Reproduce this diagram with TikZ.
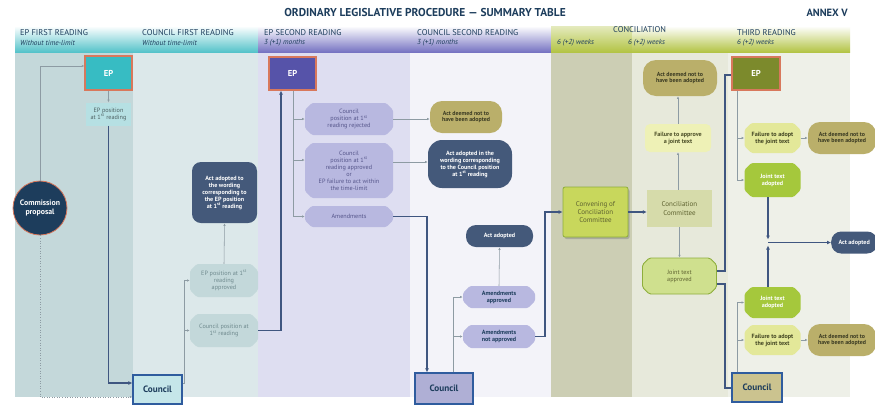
\documentclass[tikz,border=0pt]{standalone}
\usepackage{fontspec}
\setmainfont{PT Sans}
\usetikzlibrary{arrows.meta,shapes.misc,shadows,calc}
\definecolor{navy}{HTML}{1D3D5C}
\definecolor{slate}{HTML}{44597A}
\definecolor{thickc}{HTML}{3F5680}
\definecolor{thinc}{HTML}{8D9BA3}
\definecolor{epteal}{HTML}{37BCC3}
\definecolor{salmon}{HTML}{D8785C}
\definecolor{eppurple}{HTML}{5653A9}
\definecolor{epolive}{HTML}{7C8A2C}
\definecolor{lav}{HTML}{B8B8E0}
\definecolor{lavtext}{HTML}{55558A}
\definecolor{khaki}{HTML}{BAAF6A}
\definecolor{khtext}{HTML}{3A3A22}
\definecolor{tealbox}{HTML}{C3D8DA}
\definecolor{tealtext}{HTML}{6F8A8E}
\definecolor{cyanbox}{HTML}{B6E0E3}
\definecolor{councilblue}{HTML}{2F5C9E}
\definecolor{colA}{HTML}{C4D8DA}
\definecolor{colB}{HTML}{DCE8EA}
\definecolor{colC}{HTML}{DEDEF1}
\definecolor{colD}{HTML}{F3F3F9}
\definecolor{colE}{HTML}{CCCEB4}
\definecolor{colF}{HTML}{E7E9DB}
\definecolor{colG}{HTML}{EEF0E8}
\definecolor{hteal}{HTML}{55C3CA}
\definecolor{hpurple}{HTML}{7673C2}
\definecolor{holive}{HTML}{B3C445}
\definecolor{yelbox}{HTML}{EEF1B6}
\definecolor{greenbox}{HTML}{A5C83C}
\definecolor{failbox}{HTML}{E3E899}
\definecolor{jtabox}{HTML}{CFE08E}
\definecolor{jtaline}{HTML}{8EAE3C}
\definecolor{olivetext}{HTML}{5E6230}
\definecolor{convbox}{HTML}{C8D75C}
\definecolor{concbox}{HTML}{D6DBAA}
\tikzset{
  lnthin/.style={draw=thinc, line width=0.55pt},
  lnthick/.style={draw=thickc, line width=1.6pt},
  lnmed/.style={draw=thickc, line width=1.1pt},
  tipthin/.style={-{Latex[length=2.6pt,width=2.3pt]}},
  tipthick/.style={-{Latex[length=4pt,width=4pt]}},
  basebox/.style={inner sep=1pt, align=center, font=\fontsize{6.2}{7}\selectfont},
  bfont/.style={font=\fontsize{6.1}{7}\bfseries\selectfont},
  chambox/.style={basebox, chamfered rectangle, chamfered rectangle xsep=3.5pt, rounded corners=1.5pt},
  lavbox/.style={chambox, fill=lav, text=lavtext},
  lavbold/.style={chambox, fill=lav, text=navy, bfont},
  tbox/.style={chambox, fill=tealbox, text=tealtext},
  pill/.style={basebox, rectangle, rounded corners=#1, fill=khaki, text=khtext, font=\fontsize{5.9}{6.8}\bfseries\selectfont},
  dark/.style={basebox, rectangle, rounded corners=#1, fill=slate, text=white, bfont},
  epbox/.style={rectangle, draw=salmon, line width=1.2pt, text=white, font=\fontsize{8.6}{9}\bfseries\selectfont},
  cbox/.style={rectangle, draw=councilblue, line width=1.3pt, text=navy, font=\fontsize{9.2}{10}\bfseries\selectfont},
  hdr/.style={anchor=west, text=navy, font=\fontsize{8.4}{9}\selectfont, inner sep=0pt},
  sub/.style={anchor=west, text=navy, font=\fontsize{7.3}{8}\itshape\selectfont, inner sep=0pt},
}
\begin{document}
\begin{tikzpicture}[x=1pt,y=-1pt]
\useasboundingbox (0,0) rectangle (875,408);
\fill[white] (0,0) rectangle (875,408);
% column bodies
\fill[colA] (15,52) rectangle (133,397);
\fill[colB] (133,52) rectangle (258,397);
\fill[colC] (258,52) rectangle (410,397);
\fill[colD] (410,52) rectangle (551,397);
\fill[colE] (551,52) rectangle (632,397);
\fill[colF] (632,52) rectangle (728,397);
\fill[colG] (728,52) rectangle (850,397);
% header bands
\shade[top color=white, middle color=hteal!20, bottom color=hteal] (15,26) rectangle (258,52);
\shade[top color=white, middle color=hpurple!20, bottom color=hpurple] (258,26) rectangle (551,52);
\shade[top color=holive!35, bottom color=holive] (551,26) rectangle (632,52);
\shade[top color=white, middle color=holive!20, bottom color=holive] (632,26) rectangle (850,52);
% titles
\node[text=navy, font=\fontsize{11.4}{12}\bfseries\selectfont, inner sep=0pt] (title) at (425,13) {ORDINARY LEGISLATIVE PROCEDURE — SUMMARY TABLE};
\node[text=navy, font=\fontsize{10.5}{11}\bfseries\selectfont, inner sep=0pt, anchor=east] (annex) at (848,13) {ANNEX V};
\node[hdr] (h1) at (20,33) {EP FIRST READING};
\node[sub] (s1) at (20,43) {Without time-limit};
\node[hdr] (h2) at (142,33) {COUNCIL FIRST READING};
\node[sub] (s2) at (142,43) {Without time-limit};
\node[hdr] (h3) at (264,33) {EP SECOND READING};
\node[sub] (s3) at (264,43) {3 (+1) months};
\node[hdr] (h4) at (417,33) {COUNCIL SECOND READING};
\node[sub] (s4) at (417,43) {3 (+1) months};
\node[sub] (s5) at (557,43) {6 (+2) weeks};
\node[hdr] (h6) at (613,30) {CONCILIATION};
\node[sub] (s6) at (628,43) {6 (+2) weeks};
\node[hdr] (h7) at (737,33) {THIRD READING};
\node[sub] (s7) at (737,43) {6 (+2) weeks};

% nodes
\node[circle, fill=navy, draw=salmon, line width=0.8pt, minimum size=54pt, inner sep=0pt, align=center, text=white, font=\fontsize{7.8}{9.4}\bfseries\selectfont] (cp) at (40,208) {Commission\\proposal};
\node[epbox, fill=epteal, minimum width=47pt, minimum height=34pt] (ep1) at (108.5,73) {EP};
\node[basebox, fill=cyanbox, text=tealtext!70!black, minimum width=45pt, minimum height=23pt] (ep1pos) at (108.5,114) {EP position\\at 1\textsuperscript{st} reading};
\node[cbox, fill=cyanbox!80!white, minimum width=49pt, minimum height=29pt] (cf1) at (157.5,389.5) {Council};
\node[tbox, minimum width=68pt, minimum height=33pt] (ep1appr) at (224,280.5) {EP position at 1\textsuperscript{st}\\reading\\approved};
\node[tbox, minimum width=68pt, minimum height=33pt] (cpos1) at (224,330.5) {Council position at\\1\textsuperscript{st} reading};
\node[dark=9pt, minimum width=65pt, minimum height=61pt] (actep) at (224.5,192.5) {Act adopted to\\the wording\\corresponding to\\the EP position\\at 1\textsuperscript{st} reading};
\node[epbox, fill=eppurple, minimum width=47pt, minimum height=33pt] (ep2) at (292.5,73.5) {EP};
\node[lavbox, minimum width=88pt, minimum height=32pt] (rej) at (349,119) {Council\\position at 1\textsuperscript{st}\\reading rejected};
\node[lavbox, minimum width=88pt, minimum height=55pt] (appr) at (349,170.5) {Council\\position at 1\textsuperscript{st}\\reading approved\\or\\EP failure to act within\\the time-limit};
\node[lavbox, minimum width=88pt, minimum height=21pt] (amend) at (349,216.5) {Amendments};
\node[pill=12pt, minimum width=72pt, minimum height=32pt] (dm1) at (466,117) {Act deemed not to\\have been adopted};
\node[dark=14pt, minimum width=84pt, minimum height=48pt] (actcp) at (470,164) {Act adopted in the\\wording corresponding\\to the Council position\\at 1\textsuperscript{st} reading};
\node[dark=10pt, minimum width=67pt, minimum height=22pt] (actad1) at (499.5,236) {Act adopted};
\node[lavbold, minimum width=72pt, minimum height=22pt] (amap) at (499,297) {Amendments\\approved};
\node[lavbold, minimum width=72pt, minimum height=23pt] (amnap) at (499,336.5) {Amendments\\not approved};
\node[cbox, fill=lav!95!black, minimum width=58pt, minimum height=31pt] (cf2) at (444,388.5) {Council};
\node[basebox, rectangle, rounded corners=2pt, fill=convbox, draw=jtaline, line width=0.8pt, text=olivetext, drop shadow={opacity=0.45, shadow xshift=1.5pt, shadow yshift=-2pt}, minimum width=65pt, minimum height=50pt, font=\fontsize{7}{8.2}\selectfont] (conv) at (595.5,212) {Convening of\\Conciliation\\Committee};
\node[basebox, rectangle, fill=concbox, text=olivetext, minimum width=65pt, minimum height=37pt, font=\fontsize{7}{8.2}\selectfont] (concom) at (679.5,208.5) {Conciliation\\Committee};
\node[basebox, rectangle, rounded corners=5pt, fill=yelbox, text=olivetext!80!black, minimum width=66pt, minimum height=28pt, bfont] (fail1) at (678,138) {Failure to approve\\a joint text};
\node[pill=13pt, minimum width=74pt, minimum height=36pt] (dm2) at (680,78) {Act deemed not to\\have been adopted};
\node[chambox, fill=jtabox, draw=jtaline, line width=0.9pt, text=olivetext, minimum width=74pt, minimum height=36pt] (jta) at (679.5,276) {Joint text\\approved};
\node[epbox, fill=epolive, minimum width=48pt, minimum height=33pt] (ep3) at (756,73.5) {EP};
\node[chambox, fill=failbox, text=olivetext!70!black, minimum width=56pt, minimum height=30pt, bfont] (fad1) at (772.5,138) {Failure to adopt\\the joint text};
\node[pill=12pt, minimum width=68pt, minimum height=32pt] (dm3) at (842,138) {Act deemed not to\\have been adopted};
\node[chambox, fill=greenbox, text=white, minimum width=56pt, minimum height=34pt, bfont] (jtad1) at (772.5,180) {Joint text\\adopted};
\node[dark=10pt, minimum width=46pt, minimum height=22pt, anchor=west] (actad2) at (831,242.5) {Act adopted};
\node[chambox, fill=greenbox, text=white, minimum width=56pt, minimum height=31pt, bfont] (jtad2) at (772.5,302.5) {Joint text\\adopted};
\node[chambox, fill=failbox, text=olivetext!70!black, minimum width=56pt, minimum height=30pt, bfont] (fad2) at (772.5,340) {Failure to adopt\\the joint text};
\node[pill=12pt, minimum width=68pt, minimum height=32pt] (dm4) at (842,340) {Act deemed not to\\have been adopted};
\node[cbox, fill=khaki!75!white, minimum width=50pt, minimum height=29pt] (cf3) at (757,387.5) {Council};

% junction points
\coordinate (jA) at (184,383);
\coordinate (jB) at (293,216.5);
\coordinate (jC) at (453,297);
\coordinate (jD) at (545,336.5);
\coordinate (jE) at (737,180);
\coordinate (jF) at (737,302.5);
\coordinate (jn) at (768,242.5);

% connectors - commission
\draw[lnthin, tipthin] (cp.north) |- (ep1.west |- 0,66);
\draw[lnthin, dotted, tipthin] (cp.south) |- (cf1.west |- 0,397);
% first reading
\draw[lnthin, tipthin] (ep1.south) -- (ep1pos.north);
\draw[lnthick, tipthick] (ep1pos.south) |- (cf1.west |- 0,383);
\draw[lnthin] (cf1.east |- jA) -- (jA) -- (184,280.5);
\draw[lnthin, tipthin] (184,280.5) -- (ep1appr.west);
\draw[lnthin, tipthin] (184,330.5) -- (cpos1.west);
\draw[lnthin, tipthin] (ep1appr.north) -- (actep.south);
\draw[lnthick, tipthick] (cpos1.east) -| (ep2.south -| 281,0);
% second reading
\draw[lnthin] (ep2.south -| 293,0) -- (jB);
\draw[lnthin, tipthin] (293,119) -- (rej.west);
\draw[lnthin, tipthin] (293,160) -- (appr.west |- 0,160);
\draw[lnthin, tipthin] (jB) -- (amend.west);
\draw[lnthin, tipthin] (rej.east) -- (dm1.west |- rej.east);
\draw[lnthin, tipthin] (appr.east |- 0,162) -- (actcp.west |- 0,162);
\draw[lnthick, tipthick] (amend.east) -| (cf2.north -| 427,0);
\draw[lnthin] (cf2.north -| 453,0) -- (jC);
\draw[lnthin, tipthin] (jC) -- (amap.west);
\draw[lnthin, tipthin] (453,336.5) -- (amnap.west);
\draw[lnthin, tipthin] (amap.north) -- (actad1.south);
\draw[lnthick, tipthick] (amnap.east) -- (jD) |- (conv.west);
% conciliation
\draw[lnthick, tipthick] (conv.east) -- (concom.west |- conv.east);
\draw[lnthin, tipthin] (concom.north -| 678,0) -- (fail1.south);
\draw[lnthin, tipthin] (fail1.north) -- (dm2.south -| fail1.north);
\draw[lnthin, tipthin] (concom.south) -- (jta.north);
\draw[lnthick] (jta.east |- 0,271) -| (725,75) -- (ep3.west |- 0,75);
\draw[lnthick] (jta.east |- 0,284) -| (725,388) -- (cf3.west |- 0,388);
% third reading
\draw[lnthin] (ep3.south -| 737,0) -- (jE);
\draw[lnthin, tipthin] (737,138) -- (fad1.west);
\draw[lnthin, tipthin] (jE) -- (jtad1.west);
\draw[lnthin, tipthin] (fad1.east) -- (dm3.west);
\draw[lnthin] (cf3.north -| 737,0) -- (jF);
\draw[lnthin, tipthin] (jF) -- (jtad2.west);
\draw[lnthin, tipthin] (737,340) -- (fad2.west);
\draw[lnthin, tipthin] (fad2.east) -- (dm4.west);
\draw[lnthick, tipthick] (jtad1.south -| jn) -- ($(jn)+(0,-3)$);
\draw[lnthick, tipthick] (jtad2.north -| jn) -- ($(jn)+(0,3)$);
\draw[lnmed, tipthick] (jn) -- (actad2.west);
\end{tikzpicture}
\end{document}
